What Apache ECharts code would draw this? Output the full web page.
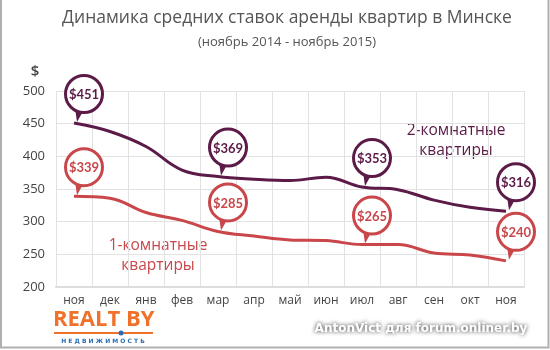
<!DOCTYPE html>
<html>
<head>
<meta charset="utf-8">
<script src="https://cdn.jsdelivr.net/npm/echarts@6/dist/echarts.min.js"></script>
<style>
  html, body { margin: 0; padding: 0; background: #fff; }
  #chart { width: 550px; height: 350px; }
</style>
</head>
<body>
<div id="chart"></div>
<script>
// Months, Nov 2014 – Nov 2015
const months = ['ноя', 'дек', 'янв', 'фев', 'мар', 'апр', 'май', 'июн', 'июл', 'авг', 'сен', 'окт', 'ноя'];
// Average rent, USD
const twoRoom = [451, 438, 415, 379, 369, 365, 363, 368, 353, 349, 333, 322, 316];
const oneRoom = [339, 336, 314, 302, 285, 278, 272, 271, 265, 265, 252, 249, 240];
// Months that get a value callout
const calloutIdx = [0, 4, 8, 12];
const yTicks = [200, 250, 300, 350, 400, 450, 500];

const PURPLE = '#5b1a47';
const RED = '#c9474b';
const FONT = '"Open Sans", sans-serif';

function calloutSeries(values, color) {
  return {
    type: 'custom',
    coordinateSystem: 'cartesian2d',
    z: 10,
    data: calloutIdx.map(i => [i, values[i]]),
    renderItem: function (params, api) {
      const p = api.coord([api.value(0), api.value(1)]);
      const cx = p[0] + 10, cy = p[1] - 29, r = 18.5;
      const a1 = 118 * Math.PI / 180, a2 = 95 * Math.PI / 180;
      return {
        type: 'group',
        children: [
          {
            type: 'polygon',
            shape: { points: [
              [cx + r * Math.cos(a1), cy + r * Math.sin(a1)],
              [cx + r * Math.cos(a2), cy + r * Math.sin(a2)],
              [p[0] + 3, p[1] - 1]
            ] },
            style: { fill: color }
          },
          {
            type: 'circle',
            shape: { cx: cx, cy: cy, r: r },
            style: { fill: '#fff', stroke: color, lineWidth: 3 }
          },
          {
            type: 'text',
            style: {
              text: '$' + api.value(1),
              x: cx, y: cy + 1,
              align: 'center', verticalAlign: 'middle',
              fill: color, font: 'bold 13px Lato, sans-serif'
            }
          }
        ]
      };
    }
  };
}

const chart = echarts.init(document.getElementById('chart'), null, { renderer: 'canvas' });

chart.setOption({
  animation: false,
  backgroundColor: '#fff',
  grid: { left: 56, right: 26, top: 91, bottom: 63, containLabel: false },
  xAxis: {
    type: 'category',
    data: months,
    boundaryGap: true,
    axisLine: { lineStyle: { color: '#ddd', width: 2 } },
    axisTick: { show: false },
    axisLabel: { color: '#444', fontFamily: FONT, fontSize: 12, margin: 8 },
    splitLine: { show: true, lineStyle: { color: '#e2e2e2', width: 1 } }
  },
  yAxis: {
    type: 'value',
    min: 200, max: 500, interval: 50,
    axisLine: { show: false },
    axisTick: { show: false },
    axisLabel: {
      color: '#444', fontFamily: FONT, fontSize: 13, margin: 11,
      formatter: v => (yTicks.includes(v) ? String(v) : '')
    },
    splitLine: { lineStyle: { color: '#e2e2e2', width: 1 } }
  },
  series: [
    {
      type: 'line', data: twoRoom, smooth: 0.4, symbol: 'none',
      lineStyle: { color: PURPLE, width: 3 }, z: 3
    },
    {
      type: 'line', data: oneRoom, smooth: 0.4, symbol: 'none',
      lineStyle: { color: RED, width: 3 }, z: 3
    },
    calloutSeries(twoRoom, PURPLE),
    calloutSeries(oneRoom, RED)
  ],
  graphic: [
    // frame
    { type: 'polyline', shape: { points: [[1, 0], [1, 347.5], [548.5, 347.5], [548.5, 0]] },
      style: { stroke: '#b0b0b0', lineWidth: 2, fill: null }, silent: true },
    // headings
    { type: 'text', x: 287, y: 18,
      style: { text: 'Динамика средних ставок аренды квартир в Минске', align: 'center', verticalAlign: 'middle',
        font: '17.5px ' + FONT, fill: '#555' } },
    { type: 'text', x: 287, y: 42,
      style: { text: '(ноябрь 2014 - ноябрь 2015)', align: 'center', verticalAlign: 'middle',
        font: '13px ' + FONT, fill: '#555' } },
    { type: 'text', x: 35, y: 72,
      style: { text: '$', align: 'center', verticalAlign: 'middle', font: '600 15px ' + FONT, fill: '#444' } },
    // series captions
    { type: 'text', x: 456, y: 141,
      style: { text: '2-комнатные\nквартиры', align: 'center', verticalAlign: 'middle',
        font: '15.5px ' + FONT, fill: PURPLE, lineHeight: 20 } },
    { type: 'text', x: 158, y: 256,
      style: { text: '1-комнатные\nквартиры', align: 'center', verticalAlign: 'middle',
        font: '15.5px ' + FONT, fill: RED, lineHeight: 20 } },
    // logo
    { type: 'text', x: 53, y: 320,
      style: { text: 'REALT BY', align: 'left', verticalAlign: 'middle',
        font: 'bold 22px "Open Sans", sans-serif', fill: '#f0712a' } },
    { type: 'rect', shape: { x: 54, y: 332, width: 99, height: 2 }, style: { fill: '#f0712a' } },
    { type: 'circle', shape: { cx: 121, cy: 333, r: 2.5 }, style: { fill: '#2a6db5' } },
    { type: 'text', x: 103, y: 341,
      style: { text: 'Н Е Д В И Ж И М О С Т Ь', align: 'center', verticalAlign: 'middle',
        font: 'bold 6px "DejaVu Sans", sans-serif', fill: '#2a6db5' } },
    // credit
    { type: 'text', x: 421, y: 329,
      style: { text: 'AntonVict для forum.onliner.by', align: 'center', verticalAlign: 'middle',
        font: 'bold 12px "DejaVu Sans", sans-serif', fill: '#fff',
        textShadowColor: 'rgba(0,0,0,0.85)', textShadowBlur: 4 } }
  ]
});
</script>
</body>
</html>
